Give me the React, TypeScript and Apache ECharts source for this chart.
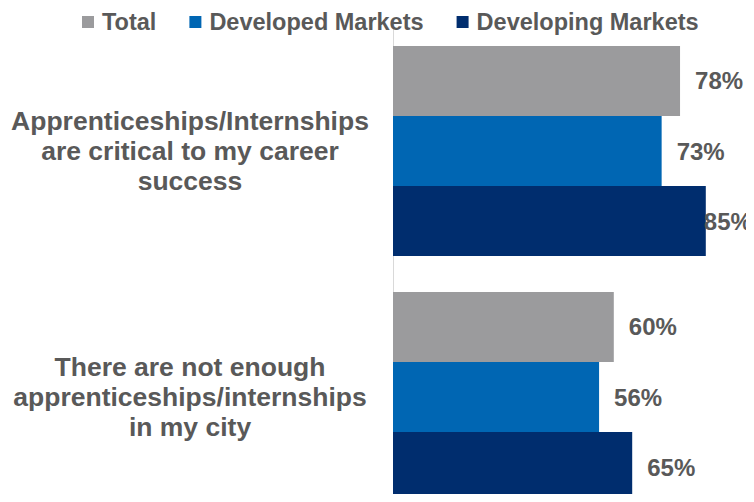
import React, { useEffect, useRef } from "react";
import * as echarts from "echarts";

const categories = [
  "Apprenticeships/Internships\nare critical to my career\nsuccess",
  "There are not enough\napprenticeships/internships\nin my city",
];
const seriesNames = ["Total", "Developed Markets", "Developing Markets"];
const totalValues = [78, 60];
const developedValues = [73, 56];
const developingValues = [85, 65];
const colors = ["#9B9B9D", "#0066B3", "#002D6E"];

const GRID_LEFT = 393;
const GRID_WIDTH = 368;
const CHART_W = 754;
const LABEL_DIST = 15;
const LABEL_W = 50;

export default function App() {
  const ref = useRef<HTMLDivElement>(null);
  useEffect(() => {
    if (!ref.current) return;
    const chart = echarts.init(ref.current, undefined, { renderer: "svg" });
    const allValues = [totalValues, developedValues, developingValues];
    const makeData = (vals: number[]) =>
      vals.map((v) => {
        const end = GRID_LEFT + (v / 100) * GRID_WIDTH;
        if (end + LABEL_DIST + LABEL_W > CHART_W) {
          return { value: v, label: { distance: 0, offset: [-2, 0] } };
        }
        return { value: v };
      });
    chart.setOption({
      animation: false,
      color: colors,
      legend: {
        top: 5,
        left: 77,
        icon: "rect",
        itemWidth: 12,
        itemHeight: 12,
        itemGap: 33,
        textStyle: {
          fontFamily: "Liberation Sans, Arial, sans-serif",
          fontWeight: "bold",
          fontSize: 23.5,
          color: "#595959",
          padding: [0, 0, 0, 3],
        },
        data: seriesNames,
      },
      grid: {
        left: GRID_LEFT,
        top: 28,
        width: GRID_WIDTH,
        height: 492,
        outerBoundsMode: "none",
        containLabel: false,
      },
      xAxis: {
        type: "value",
        min: 0,
        max: 100,
        show: false,
      },
      yAxis: {
        type: "category",
        inverse: true,
        data: categories,
        axisLine: { show: true, lineStyle: { color: "#D9D9D9", width: 1 } },
        axisTick: { show: false },
        axisLabel: {
          align: "center",
          margin: 203,
          fontFamily: "Liberation Sans, Arial, sans-serif",
          fontWeight: "bold",
          fontSize: 26.5,
          lineHeight: 30,
          color: "#595959",
        },
      },
      series: seriesNames.map((name, i) => ({
        name,
        type: "bar",
        barGap: "0%",
        barCategoryGap: "14.6%",
        data: makeData(allValues[i]),
        label: {
          show: true,
          position: "right",
          distance: LABEL_DIST,
          formatter: "{c}%",
          fontFamily: "Liberation Sans, Arial, sans-serif",
          fontWeight: "bold",
          fontSize: 24,
          color: "#595959",
        },
      })),
    });
    return () => chart.dispose();
  }, []);
  return <div ref={ref} style={{ width: 754, height: 502, margin: -8 }} />;
}
